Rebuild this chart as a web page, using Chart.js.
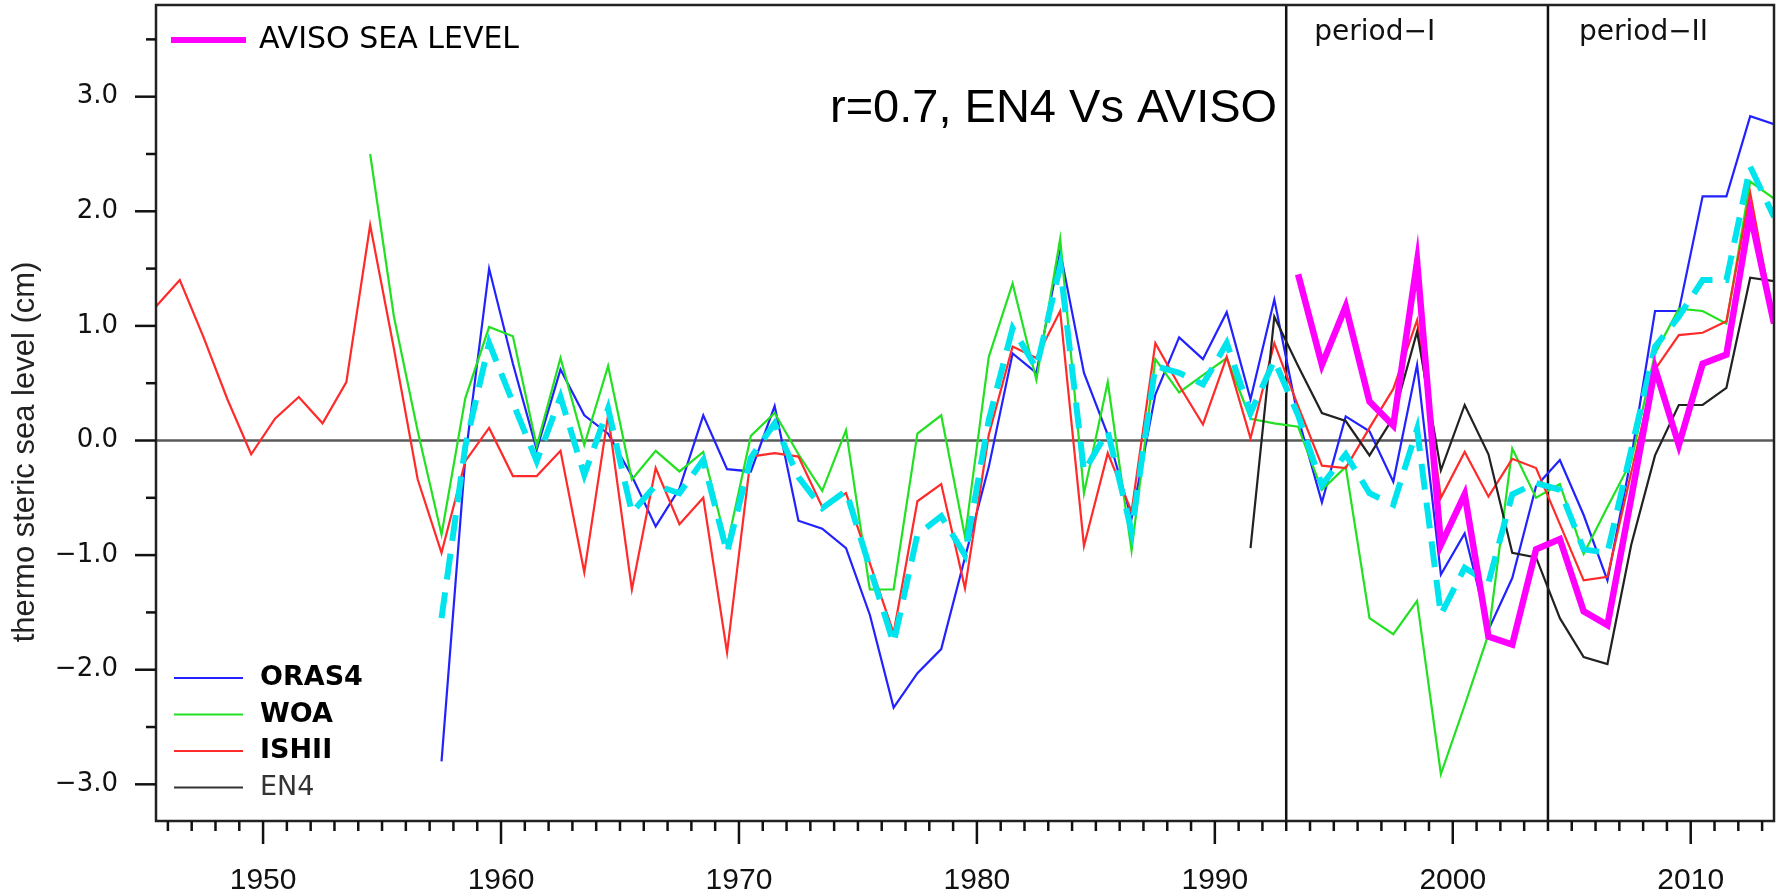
<!DOCTYPE html>
<html>
<head>
<meta charset="utf-8">
<script src="https://cdn.jsdelivr.net/npm/chart.js@4.4.1/dist/chart.umd.min.js"></script>
<style>
  html, body { margin: 0; padding: 0; background: #fff; }
  canvas { display: block; }
</style>
</head>
<body>
<canvas id="chart" width="1781" height="895"></canvas>
<script>
// Annual thermosteric sea level anomalies (cm); each series starts at its own year,
// annual means are plotted at mid-year.
const ishiiStart = 1945;
const ishii = [
  1.17, 1.40, 0.90, 0.36, -0.12, 0.19, 0.38, 0.15, 0.51, 1.88,
  0.80, -0.34, -0.98, -0.18, 0.11, -0.31, -0.31, -0.09, -1.15, 0.22,
  -1.30, -0.24, -0.73, -0.50, -1.85, -0.14, -0.11, -0.14, -0.58, -0.46,
  -1.07, -1.68, -0.53, -0.38, -1.29, 0.05, 0.82, 0.72, 1.13, -0.92,
  -0.11, -0.62, 0.85, 0.48, 0.14, 0.73, 0.02, 0.85, 0.30, -0.22,
  -0.24, 0.11, 0.45, 1.05, -0.50, -0.10, -0.49, -0.16, -0.24, -0.73,
  -1.22, -1.19, -0.28, 0.62, 0.92, 0.94, 1.04, 2.16, 1.05
];

const woaStart = 1954;
const woa = [
  2.50,
  1.08, 0.08, -0.82, 0.37, 0.99, 0.91, -0.05, 0.72, -0.04, 0.65,
  -0.34, -0.09, -0.27, -0.10, -0.92, 0.04, 0.24, -0.12, -0.44, 0.09,
  -1.30, -1.30, 0.06, 0.22, -0.84, 0.73, 1.37, 0.53, 1.76, -0.46,
  0.51, -0.96, 0.71, 0.42, 0.57, 0.72, 0.19, 0.15, 0.12, -0.43,
  -0.23, -1.55, -1.69, -1.40, -2.91, -2.31, -1.69, -0.07, -0.50, -0.38,
  -0.99, -0.58, -0.18, 0.76, 1.15, 1.13, 1.02, 2.26, 2.11
];

const oras4Start = 1957;
const oras4 = [
  -2.80, -0.15, 1.50, 0.67, -0.08, 0.62, 0.22, 0.06,
  -0.31, -0.75, -0.42, 0.22, -0.25, -0.27, 0.30, -0.70, -0.77, -0.94,
  -1.52, -2.33, -2.03, -1.82, -1.02, -0.23, 0.76, 0.59, 1.65, 0.59,
  0.05, -0.68, 0.40, 0.90, 0.71, 1.12, 0.36, 1.23, 0.20, -0.54,
  0.21, 0.08, -0.36, 0.66, -1.17, -0.81, -1.65, -1.20, -0.40, -0.17,
  -0.65, -1.22, -0.15, 1.13, 1.13, 2.13, 2.13, 2.83, 2.76
];

// Ensemble mean (dashed)
const meanStart = 1957;
const ensembleMean = [
  -1.55, -0.05, 0.85, 0.33, -0.18, 0.38, -0.30, 0.28,
  -0.63, -0.39, -0.46, -0.17, -0.98, -0.15, 0.15, -0.32, -0.59, -0.44,
  -1.11, -1.77, -0.82, -0.66, -1.00, 0.18, 0.98, 0.63, 1.52, -0.27,
  0.08, -0.79, 0.65, 0.59, 0.49, 0.85, 0.24, 0.70, 0.22, -0.39,
  -0.12, -0.46, -0.56, 0.10, -1.52, -1.11, -1.24, -0.47, -0.37, -0.43,
  -0.95, -0.98, -0.08, 0.82, 1.08, 1.40, 1.40, 2.39, 1.95
];

const en4Start = 1991;
const en4 = [
  -0.94, 1.08, 0.65, 0.24, 0.17, -0.13, 0.20, 0.95, -0.26, 0.31,
  -0.12, -0.98, -1.02, -1.55, -1.89, -1.95, -0.91, -0.13, 0.31, 0.31,
  0.46, 1.42, 1.39
];

const avisoStart = 1993;
const aviso = [
  1.45, 0.66, 1.17, 0.34, 0.13, 1.56, -0.91, -0.47, -1.71, -1.78,
  -0.95, -0.86, -1.49, -1.61, -0.50, 0.63, -0.04, 0.67, 0.75, 1.98, 1.02
];

// Axis ticks and period boundaries
const xTickYears = [1950, 1960, 1970, 1980, 1990, 2000, 2010];
const yTickValues = [-3, -2, -1, 0, 1, 2, 3];
const periodBounds = [1993, 2004];
const periodNames = ['period\u2212I', 'period\u2212II'];

const X_MIN = 1945.5, X_MAX = 2013.5;
const Y_MIN = -3.32, Y_MAX = 3.80;

function toPoints(start, values) {
  return values.map((v, i) => ({ x: start + i + 0.5, y: v }));
}

function fmtY(v) {
  const s = Math.abs(v).toFixed(1);
  return v < 0 ? '\u2212' + s : s;
}

const decor = {
  id: 'decor',
  beforeDatasetsDraw(chart) {
    const { ctx, chartArea: a, scales: { x, y } } = chart;
    ctx.save();
    // zero line
    ctx.strokeStyle = '#5a5a5a';
    ctx.lineWidth = 2.6;
    const y0 = y.getPixelForValue(0);
    ctx.beginPath(); ctx.moveTo(a.left, y0); ctx.lineTo(a.right, y0); ctx.stroke();
    // period boundaries
    ctx.strokeStyle = '#111';
    ctx.lineWidth = 2.5;
    periodBounds.forEach(yr => {
      const px = x.getPixelForValue(yr);
      ctx.beginPath(); ctx.moveTo(px, a.top); ctx.lineTo(px, a.bottom); ctx.stroke();
    });
    ctx.restore();
  },
  afterDraw(chart) {
    const { ctx, chartArea: a, scales: { x, y } } = chart;
    ctx.save();
    // frame
    ctx.strokeStyle = '#222';
    ctx.lineWidth = 2.5;
    ctx.strokeRect(a.left, a.top, a.right - a.left, a.bottom - a.top);

    // tick marks
    ctx.lineWidth = 2.5;
    ctx.strokeStyle = '#111';
    for (let v = -3; v <= Y_MAX; v += 0.5) {
      const py = y.getPixelForValue(v);
      const len = Number.isInteger(v) ? 21 : 10;
      ctx.beginPath(); ctx.moveTo(a.left, py); ctx.lineTo(a.left - len, py); ctx.stroke();
    }
    for (let yr = Math.ceil(X_MIN); yr <= X_MAX; yr++) {
      const px = x.getPixelForValue(yr);
      const len = yr % 10 === 0 ? 23 : 10;
      ctx.beginPath(); ctx.moveTo(px, a.bottom); ctx.lineTo(px, a.bottom + len); ctx.stroke();
    }

    // y axis title
    ctx.save();
    ctx.translate(25, 452);
    ctx.rotate(-Math.PI / 2);
    ctx.font = '31px "Liberation Sans", Arial, sans-serif';
    ctx.fillStyle = '#222';
    ctx.textAlign = 'center';
    ctx.textBaseline = 'middle';
    ctx.fillText('thermo steric sea level (cm)', 0, 0);
    ctx.restore();

    // AVISO legend entry
    ctx.lineCap = 'butt';
    ctx.strokeStyle = '#ff00ff';
    ctx.lineWidth = 6;
    ctx.beginPath(); ctx.moveTo(171, 40); ctx.lineTo(246, 40); ctx.stroke();
    ctx.fillStyle = '#000';
    ctx.font = '30px "DejaVu Sans", sans-serif';
    ctx.textAlign = 'left';
    ctx.textBaseline = 'middle';
    ctx.fillText('AVISO SEA LEVEL', 259, 40);

    // product legend
    const entries = [
      { label: 'ORAS4', color: '#2222ff', text: '#000', weight: 'bold' },
      { label: 'WOA', color: '#22e022', text: '#000', weight: 'bold' },
      { label: 'ISHII', color: '#ff2a2a', text: '#000', weight: 'bold' },
      { label: 'EN4', color: '#333', text: '#333', weight: 'normal' }
    ];
    entries.forEach((e, i) => {
      const ly = 678 + i * 36.5;
      ctx.strokeStyle = e.color;
      ctx.lineWidth = 2.2;
      ctx.beginPath(); ctx.moveTo(174, ly); ctx.lineTo(243, ly); ctx.stroke();
      ctx.fillStyle = e.text;
      ctx.font = e.weight + ' 27px "DejaVu Sans", sans-serif';
      ctx.fillText(e.label, 260, ly);
    });

    // period labels
    ctx.fillStyle = '#111';
    ctx.font = '28px "DejaVu Sans", sans-serif';
    ctx.textBaseline = 'alphabetic';
    ctx.fillText(periodNames[0], x.getPixelForValue(periodBounds[0]) + 28, 40);
    ctx.fillText(periodNames[1], x.getPixelForValue(periodBounds[1]) + 31, 40);

    // correlation note
    ctx.fillStyle = '#000';
    ctx.font = '47px "Liberation Sans", Arial, sans-serif';
    ctx.fillText('r=0.7, EN4 Vs AVISO', 830, 122);
    ctx.restore();
  }
};

const thin = 2.2;
new Chart(document.getElementById('chart'), {
  type: 'line',
  data: {
    datasets: [
      { label: 'AVISO SEA LEVEL', data: toPoints(avisoStart, aviso),
        borderColor: '#ff00ff', borderWidth: 6.5, borderJoinStyle: 'miter' },
      { label: 'mean', data: toPoints(meanStart, ensembleMean),
        borderColor: '#00e4ee', borderWidth: 6, borderDash: [26, 13] },
      { label: 'EN4', data: toPoints(en4Start, en4),
        borderColor: '#222', borderWidth: thin },
      { label: 'ISHII', data: toPoints(ishiiStart, ishii),
        borderColor: '#ff2a2a', borderWidth: thin },
      { label: 'WOA', data: toPoints(woaStart, woa),
        borderColor: '#22e022', borderWidth: thin },
      { label: 'ORAS4', data: toPoints(oras4Start, oras4),
        borderColor: '#2222ff', borderWidth: thin }
    ]
  },
  options: {
    responsive: false,
    animation: false,
    devicePixelRatio: 1,
    layout: { autoPadding: false, padding: { top: 5, right: 7, bottom: 0, left: 0 } },
    elements: { point: { radius: 0 }, line: { tension: 0, fill: false } },
    plugins: { legend: { display: false }, tooltip: { enabled: false } },
    scales: {
      x: {
        type: 'linear', min: X_MIN, max: X_MAX,
        grid: { display: false }, border: { display: false },
        ticks: {
          autoSkip: false, maxRotation: 0, padding: 34, color: '#111',
          font: { family: '"Liberation Sans", Arial, sans-serif', size: 30 },
          callback: v => String(v)
        },
        afterBuildTicks: s => { s.ticks = xTickYears.map(v => ({ value: v })); },
        afterFit: s => { s.height = 74; }
      },
      y: {
        type: 'linear', min: Y_MIN, max: Y_MAX,
        // invisible tick marks only push the labels away from the axis
        grid: { display: true, drawOnChartArea: false, drawTicks: true,
                tickLength: 38, color: 'rgba(0,0,0,0)' },
        border: { display: false },
        ticks: {
          autoSkip: false, padding: 0, color: '#111',
          font: { family: '"DejaVu Sans", sans-serif', size: 26, lineHeight: 0.3 },
          callback: v => fmtY(v)
        },
        afterBuildTicks: s => { s.ticks = yTickValues.map(v => ({ value: v })); },
        afterFit: s => { s.width = 156; }
      }
    }
  },
  plugins: [decor]
});
</script>
</body>
</html>
